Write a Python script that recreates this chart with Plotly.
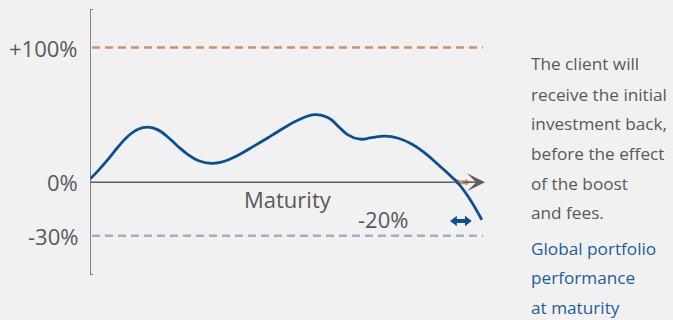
import plotly.graph_objects as go

# ---- data (illustrative scale: x = time to maturity 0..100, y = performance in %) ----
curve_x = [0, 2.03, 4.56, 7.09, 9.62, 12.15, 14.68, 17.22, 19.75, 22.28, 24.81, 27.34,
           30.71, 33.24, 37.47, 41.70, 45.9, 50.13, 52.73, 56.96, 60.33, 62.86, 65.39,
           68.35, 71.32, 74.68, 78.05, 81.44, 84.81, 88.18, 91.57, 93.24, 95.77, 99.2]
curve_y = [2.4, 8.5, 17.0, 26.2, 34.2, 39.4, 41.0, 38.9, 33.4, 26.6, 20.6, 16.2,
           14.1, 15.0, 20.1, 27.2, 34.6, 42.2, 46.2, 50.2, 47.9, 41.5, 35.0,
           32.0, 33.1, 34.2, 32.7, 28.4, 21.6, 13.0, 4.0, -0.8, -10.8, -27.8]

level_labels = ["+100%", "0%", "-30%"]
level_values = [100, 0, -39.6]       # position of each reference level on the illustrative scale

maturity_label = "Maturity"
final_label = "-20%"
final_label_pos = (74.3, -26.9)
maturity_label_pos = (50.1, -12.4)

boost_arrow_x = [92.9, 95.5]
boost_arrow_y = [0, 0]
final_arrow_x = [92.3, 95.5]
final_arrow_y = [-28.7, -28.7]

side_text = ["The client will", "receive the initial", "investment back,",
             "before the effect", "of the boost", "and fees."]
side_title = ["Global portfolio", "performance", "at maturity"]

# ---- styling ----
BG = "#F1F1F1"
GREY = "#58595B"
AXIS = "#5F5F5F"
BLUE = "#0B4F92"
ORANGE = "#C6946A"
BLUEGREY = "#9DB0C6"
TITLE_BLUE = "#1F5C9C"
FONT = "Open Sans"

W, H = 673, 320
L, R, T, B = 90, 188, 9, 45
PW, PH = W - L - R, H - T - B
X0, X1 = 0, 100
Y0, Y1 = -68.8, 128.6


def px_x(px):
    return (px - L) / PW


def px_y(py):
    return (H - B - py) / PH


fig = go.Figure()

# reference dashed lines
fig.add_trace(go.Scatter(x=[0.5, 99.5], y=[level_values[0]] * 2, mode="lines",
                         line=dict(color=ORANGE, width=2.5, dash="8px,5px"),
                         hoverinfo="skip", showlegend=False))
fig.add_trace(go.Scatter(x=[0.5, 99.5], y=[level_values[2]] * 2, mode="lines",
                         line=dict(color=BLUEGREY, width=2.5, dash="8px,5px"),
                         hoverinfo="skip", showlegend=False))

# zero axis line
fig.add_trace(go.Scatter(x=[0, 97], y=[0, 0], mode="lines",
                         line=dict(color=AXIS, width=1.5),
                         hoverinfo="skip", showlegend=False))

# small double arrows
fig.add_trace(go.Scatter(x=boost_arrow_x, y=boost_arrow_y, mode="lines+markers",
                         line=dict(color=ORANGE, width=4),
                         marker=dict(symbol=["triangle-left", "triangle-right"], size=6,
                                     color=ORANGE),
                         hoverinfo="skip", showlegend=False))

# performance curve
fig.add_trace(go.Scatter(x=curve_x, y=curve_y, mode="lines",
                         line=dict(color=BLUE, width=2.8, shape="spline", smoothing=1.3),
                         hoverinfo="skip", showlegend=False))

fig.add_trace(go.Scatter(x=final_arrow_x, y=final_arrow_y, mode="lines+markers",
                         line=dict(color=BLUE, width=4),
                         marker=dict(symbol=["triangle-left", "triangle-right"], size=9,
                                     color=BLUE),
                         hoverinfo="skip", showlegend=False))

shapes = [
    dict(type="line", xref="x", yref="y", x0=0, x1=0, y0=Y0, y1=Y1,
         line=dict(color=AXIS, width=1.5)),
    dict(type="line", xref="x", yref="y", x0=-0.75, x1=0.75, y0=Y1, y1=Y1,
         line=dict(color=AXIS, width=1.5)),
    dict(type="line", xref="x", yref="y", x0=-0.75, x1=0.75, y0=Y0, y1=Y0,
         line=dict(color=AXIS, width=1.5)),
]

annotations = []
# arrow head on the maturity axis
annotations.append(dict(x=100, y=0, ax=94, ay=0, xref="x", yref="y", axref="x", ayref="y",
                        showarrow=True, arrowhead=3, arrowsize=2.0, arrowwidth=1.5,
                        arrowcolor=AXIS, text=""))

for lab, val in zip(level_labels, level_values):
    annotations.append(dict(x=0, y=val, xref="x", yref="y", text=lab, showarrow=False,
                            xanchor="right", yanchor="middle", xshift=-10,
                            font=dict(family=FONT, size=22, color=GREY)))

annotations.append(dict(x=maturity_label_pos[0], y=maturity_label_pos[1], xref="x", yref="y",
                        text=maturity_label, showarrow=False,
                        font=dict(family=FONT, size=22, color=GREY)))
annotations.append(dict(x=final_label_pos[0], y=final_label_pos[1], xref="x", yref="y",
                        text=final_label, showarrow=False,
                        font=dict(family=FONT, size=22, color=GREY)))

side_y = [64, 94, 124, 153, 183, 212]
for txt, py in zip(side_text, side_y):
    annotations.append(dict(x=px_x(529), y=px_y(py), xref="paper", yref="paper", text=txt,
                            showarrow=False, xanchor="left", yanchor="middle",
                            font=dict(family=FONT, size=17.2, color=GREY)))
title_y = [248, 277, 307]
for txt, py in zip(side_title, title_y):
    annotations.append(dict(x=px_x(529), y=px_y(py), xref="paper", yref="paper", text=txt,
                            showarrow=False, xanchor="left", yanchor="middle",
                            font=dict(family=FONT, size=17.2, color=TITLE_BLUE)))

fig.update_layout(
    width=W, height=H,
    margin=dict(l=L, r=R, t=T, b=B, pad=0),
    paper_bgcolor=BG, plot_bgcolor=BG,
    xaxis=dict(range=[X0, X1], visible=False, fixedrange=True),
    yaxis=dict(range=[Y0, Y1], visible=False, fixedrange=True),
    shapes=shapes, annotations=annotations,
    showlegend=False,
)

fig.write_html("out.html", config={"displayModeBar": False})
